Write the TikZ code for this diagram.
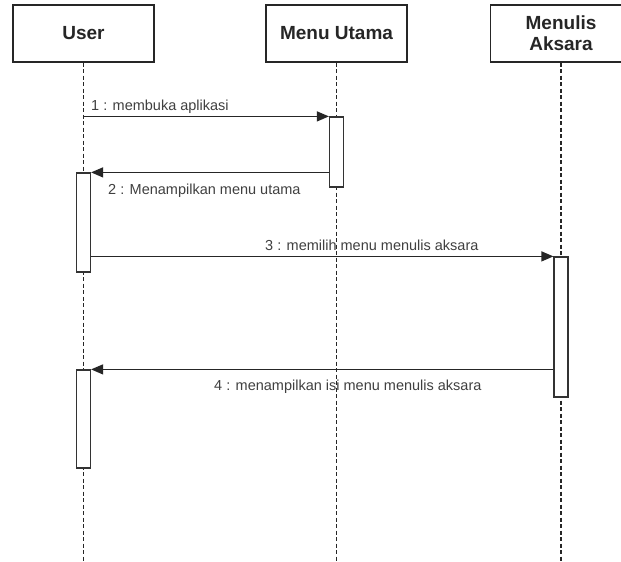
\documentclass[tikz,border=0pt]{standalone}
\usepackage{fontspec}
\setmainfont{Liberation Sans}
\usetikzlibrary{arrows.meta}
\begin{document}
\begin{tikzpicture}[x=1pt,y=-1pt,
  head/.style={draw=black!85, line width=1.2pt, fill=white, minimum width=141pt, minimum height=57pt,
    inner sep=0pt, align=center, font=\fontsize{19}{21}\selectfont\bfseries, text=black!85},
  act/.style={draw=black!80, line width=1.2pt, fill=white, minimum width=14pt, inner sep=0pt},
  life/.style={dashed, dash pattern=on 4pt off 2.5pt, line width=1.1pt, black!85},
  msg/.style={line width=1.2pt, black!85, -{Triangle[length=12pt,width=10pt]}},
  lbl/.style={anchor=base west, inner sep=0pt, font=\fontsize{14.5}{17}\selectfont, text=black!75}]
\clip (0,0) rectangle (621,562);
\fill[white] (0,0) rectangle (621,562);
% heads
\node[head] (U) at (83.5,33.5) {User};
\node[head] (M) at (336.5,33.5) {Menu Utama};
\node[head] (W) at (561,33.5) {Menulis\\Aksara};
% lifeline ends
\coordinate (Ue) at (83.5,562);
\coordinate (Me) at (336.5,562);
\coordinate (We) at (561,562);
\draw[life] (U.south) -- (Ue);
\draw[life] (M.south) -- (Me);
\draw[life] (W.south) -- (We);
% activations
\node[act, minimum height=99pt] (A1) at (83.5,222.5) {};
\node[act, minimum height=98pt] (A2) at (83.5,419) {};
\node[act, minimum height=70pt] (M1) at (336.5,152) {};
\node[act, minimum height=140pt] (W1) at (561,327) {};
% messages
\draw[msg] (U.south |- M1.north west) -- (M1.north west);
\draw[msg] (M1.west |- A1.north east) -- (A1.north east);
\draw[msg] (A1.east |- W1.north west) -- (W1.north west);
\draw[msg] (W1.west |- A2.north east) -- (A2.north east);
% labels
\node[lbl] (L1) at (91,110.5) {1 : membuka aplikasi};
\node[lbl] (L2) at (108,194) {2 : Menampilkan menu utama};
\node[lbl] (L3) at (265,250.5) {3 : memilih menu menulis aksara};
\node[lbl] (L4) at (214,390.5) {4 : menampilkan isi menu menulis aksara};
\end{tikzpicture}
\end{document}
